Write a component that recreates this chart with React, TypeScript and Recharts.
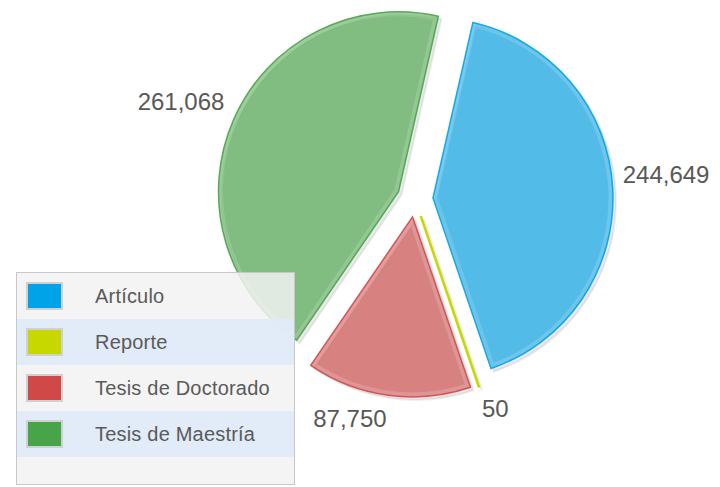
import React from "react";
import { PieChart, Pie, Cell, Sector, Legend } from "recharts";

// document types
const categories = ["Artículo", "Reporte", "Tesis de Doctorado", "Tesis de Maestría"];
const counts = [244649, 50, 87750, 261068];
const colors = ["#00a2e8", "#c6d800", "#d04848", "#48a448"];

const data = categories.map((name, i) => ({ name, value: counts[i] }));

const RAD = Math.PI / 180;
const EXPLODE = 18;
const LABEL_R = 208;
const FONT = "'Liberation Sans', Arial, sans-serif";

// each slice is drawn pulled out along its mid angle, with a soft shadow
const renderSlice = (props: any) => {
  const { cx, cy, midAngle, startAngle, endAngle, outerRadius, index, value } = props;
  const color = colors[index];
  const thin = Math.abs(endAngle - startAngle) < 1;
  const dx = Math.cos(-midAngle * RAD);
  const dy = Math.sin(-midAngle * RAD);
  const ox = cx + EXPLODE * dx;
  const oy = cy + EXPLODE * dy;
  const lx = cx + LABEL_R * dx;
  const ly = cy + LABEL_R * dy + (dy < 0 ? -14 : 13);
  const geo = { cx: ox, cy: oy, innerRadius: 0, outerRadius, startAngle, endAngle };
  return (
    <g>
      <Sector
        {...geo}
        cx={ox + 3}
        cy={oy + 3}
        fill="#000"
        fillOpacity={0.1}
        stroke="#000"
        strokeOpacity={0.08}
        strokeWidth={2}
      />
      <Sector {...geo} fill={color} fillOpacity={0.64} stroke="none" />
      {/* light bevel just inside the edge */}
      {!thin && <Sector {...geo} fill="none" stroke="#fff" strokeOpacity={0.16} strokeWidth={9} />}
      <Sector
        {...geo}
        fill="none"
        stroke={color}
        strokeOpacity={thin ? 1 : 0.9}
        strokeWidth={thin ? 2.5 : 1.5}
      />
      <text
        x={lx}
        y={ly}
        textAnchor={dx >= 0 ? "start" : "end"}
        dominantBaseline="central"
        fill="#585858"
        fontSize={24}
        fontFamily={FONT}
      >
        {value.toLocaleString("en-US")}
      </text>
    </g>
  );
};

const LegendBox = ({ payload }: any) => (
  <div
    style={{
      width: 279,
      height: 213,
      boxSizing: "border-box",
      border: "1px solid #c8c8c8",
      background: "rgba(242,242,242,0.85)",
      fontFamily: FONT,
    }}
  >
    {(payload || []).map((p: any, i: number) => (
      <div
        key={p.value}
        style={{
          height: 46,
          display: "flex",
          alignItems: "center",
          background: i % 2 ? "rgba(224,234,248,0.95)" : "transparent",
        }}
      >
        <span
          style={{
            marginLeft: 9,
            width: 33,
            height: 24,
            border: "2px solid #d0d0d0",
            background: p.color,
            display: "inline-block",
          }}
        />
        <span style={{ marginLeft: 32, fontSize: 20, color: "#5a5a5a", letterSpacing: 0.2 }}>{p.value}</span>
      </div>
    ))}
  </div>
);

export default function App() {
  return (
    <div style={{ position: "absolute", left: 0, top: 0, width: 720, height: 487, background: "#fff" }}>
      <PieChart width={720} height={487} margin={{ top: 0, right: 0, bottom: 0, left: 0 }}>
        <Pie
          data={data}
          dataKey="value"
          nameKey="name"
          cx={415}
          cy={199}
          outerRadius={180}
          startAngle={77.2}
          endAngle={-282.8}
          isAnimationActive={false}
          label={renderSlice}
          labelLine={false}
          stroke="none"
        >
          {data.map((d, i) => (
            <Cell key={d.name} fill={colors[i]} fillOpacity={0} stroke="none" />
          ))}
        </Pie>
        <Legend
          content={(props: any) => <LegendBox {...props} />}
          wrapperStyle={{ left: 16, top: 272, width: 279, height: 213 }}
        />
      </PieChart>
    </div>
  );
}
